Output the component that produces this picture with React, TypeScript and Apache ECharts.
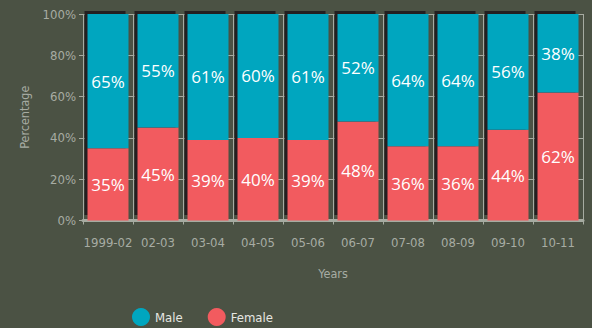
import React, { useEffect, useRef } from "react";
import * as echarts from "echarts";

const years = ["1999-02", "02-03", "03-04", "04-05", "05-06", "06-07", "07-08", "08-09", "09-10", "10-11"];
const female = [35, 45, 39, 40, 39, 48, 36, 36, 44, 62];
const male = [65, 55, 61, 60, 61, 52, 64, 64, 56, 38];
const totals = female.map((f, i) => f + male[i]);

const BG = "#4b5244";
const AXIS = "#a6aba1";
const TEXT = "#a7aca3";
const BLUE = "#00a6bf";
const RED = "#f25b5f";
const SHADOW = "#231f20";
const NARROW = "'DejaVu Sans Condensed', 'Liberation Sans Narrow', sans-serif";

export default function App() {
  const ref = useRef<HTMLDivElement>(null);

  useEffect(() => {
    document.body.style.margin = "0";
    document.body.style.background = BG;
    const chart = echarts.init(ref.current!, null, { renderer: "svg" });

    const label = {
      show: true,
      position: "inside",
      formatter: "{c}%",
      color: "#ffffff",
      fontFamily: "'Open Sans', sans-serif",
      fontSize: 17,
    };

    chart.setOption({
      animation: false,
      backgroundColor: BG,
      grid: { left: 83, right: 9, top: 14, bottom: 107.5 },
      legend: {
        data: ["Male", "Female"],
        left: 132,
        top: 308,
        padding: 0,
        icon: "circle",
        itemWidth: 18,
        itemHeight: 18,
        itemGap: 25,
        textStyle: { color: "#e6e7e2", fontFamily: NARROW, fontSize: 13 },
      },
      xAxis: {
        type: "category",
        data: years,
        name: "Years",
        nameLocation: "middle",
        nameGap: 46,
        nameTextStyle: { color: TEXT, fontFamily: NARROW, fontSize: 12.5 },
        axisLine: { show: true, lineStyle: { color: AXIS, width: 3 } },
        axisTick: { show: true, length: 4, lineStyle: { color: AXIS, width: 1 } },
        axisLabel: { interval: 0, color: TEXT, fontFamily: NARROW, fontSize: 13, margin: 15 },
        splitLine: { show: true, lineStyle: { color: AXIS, width: 1 } },
      },
      yAxis: {
        type: "value",
        min: 0,
        max: 100,
        interval: 20,
        name: "Percentage",
        nameLocation: "middle",
        nameGap: 52,
        nameTextStyle: { color: TEXT, fontFamily: NARROW, fontSize: 12.5 },
        axisLine: { show: false },
        axisTick: { show: true, length: 4, lineStyle: { color: AXIS, width: 1 } },
        axisLabel: { color: TEXT, fontFamily: NARROW, fontSize: 13, margin: 7, formatter: "{value}%" },
        splitLine: { show: true, lineStyle: { color: AXIS, width: 1 } },
      },
      series: [
        {
          // dark offset backing behind each stacked column
          type: "custom",
          name: "backing",
          z: 1,
          silent: true,
          data: totals.map((t, i) => [i, t]),
          renderItem: (params: any, api: any) => {
            const top = api.coord([api.value(0), api.value(1)]);
            const base = api.coord([api.value(0), 0]);
            const w = api.size([1, 0])[0] * 0.82;
            return {
              type: "rect",
              shape: { x: top[0] - w / 2 - 3, y: top[1] - 3, width: w, height: base[1] - top[1] - 2.5 },
              style: { fill: SHADOW },
            };
          },
        },
        {
          name: "Female",
          type: "bar",
          stack: "total",
          z: 2,
          barWidth: "82%",
          data: female,
          itemStyle: { color: RED },
          label,
        },
        {
          name: "Male",
          type: "bar",
          stack: "total",
          z: 2,
          barWidth: "82%",
          data: male,
          itemStyle: { color: BLUE },
          label,
        },
      ],
    });

    return () => chart.dispose();
  }, []);

  return <div ref={ref} style={{ position: "fixed", left: 0, top: 0, width: 592, height: 328 }} />;
}
